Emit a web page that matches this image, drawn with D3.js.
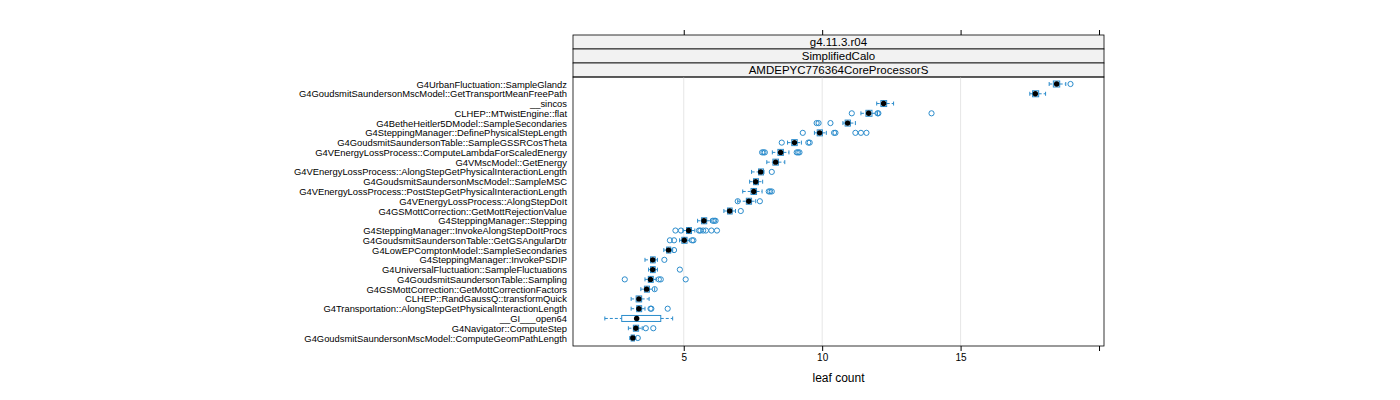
<!DOCTYPE html><html><head><meta charset="utf-8"><script src="https://d3js.org/d3.v7.min.js"></script>
<style>body{margin:0;background:#fff}text{font-family:"Liberation Sans",Arial,sans-serif}</style></head><body><svg id="c" width="1400" height="400"></svg>
<script>
const categories=["G4UrbanFluctuation::SampleGlandz","G4GoudsmitSaundersonMscModel::GetTransportMeanFreePath","__sincos","CLHEP::MTwistEngine::flat","G4BetheHeitler5DModel::SampleSecondaries","G4SteppingManager::DefinePhysicalStepLength","G4GoudsmitSaundersonTable::SampleGSSRCosTheta","G4VEnergyLossProcess::ComputeLambdaForScaledEnergy","G4VMscModel::GetEnergy","G4VEnergyLossProcess::AlongStepGetPhysicalInteractionLength","G4GoudsmitSaundersonMscModel::SampleMSC","G4VEnergyLossProcess::PostStepGetPhysicalInteractionLength","G4VEnergyLossProcess::AlongStepDoIt","G4GSMottCorrection::GetMottRejectionValue","G4SteppingManager::Stepping","G4SteppingManager::InvokeAlongStepDoItProcs","G4GoudsmitSaundersonTable::GetGSAngularDtr","G4LowEPComptonModel::SampleSecondaries","G4SteppingManager::InvokePSDIP","G4UniversalFluctuation::SampleFluctuations","G4GoudsmitSaundersonTable::Sampling","G4GSMottCorrection::GetMottCorrectionFactors","CLHEP::RandGaussQ::transformQuick","G4Transportation::AlongStepGetPhysicalInteractionLength","__GI___open64","G4Navigator::ComputeStep","G4GoudsmitSaundersonMscModel::ComputeGeomPathLength"];
const medians=[18.47,17.7,12.22,11.68,10.92,9.91,9.0,8.5,8.32,7.78,7.6,7.53,7.35,6.66,5.73,5.18,5.02,4.45,3.88,3.88,3.8,3.66,3.38,3.38,3.3,3.27,3.16];
const q1=[18.35,17.6,12.12,11.58,10.83,9.82,8.9,8.4,8.22,7.7,7.52,7.43,7.26,6.58,5.64,5.1,4.93,4.38,3.8,3.8,3.72,3.58,3.28,3.3,2.76,3.18,3.1];
const q3=[18.58,17.82,12.33,11.8,11.02,10.01,9.1,8.6,8.42,7.88,7.7,7.63,7.45,6.75,5.83,5.28,5.12,4.53,3.97,3.97,3.9,3.76,3.48,3.48,4.17,3.37,3.22];
const whiskLo=[18.2,17.5,11.97,11.4,10.75,9.72,8.75,8.2,8.0,7.45,7.38,7.13,6.95,6.45,5.5,4.97,4.85,4.28,3.6,3.73,3.6,3.45,3.1,3.1,2.15,3.0,3.05];
const whiskHi=[18.8,18.07,12.58,12.0,11.2,10.15,9.25,8.8,8.65,7.9,7.85,7.83,7.6,6.87,5.97,5.4,5.2,4.6,4.05,4.05,4.0,3.95,3.75,3.6,4.6,3.5,3.27];
const outliers=[[18.97],[],[],[11.07,12.0,12.03,13.95],[9.8,9.87,10.3],[9.3,10.43,10.48,11.2,11.4,11.6],[8.54,9.5,9.55],[7.83,7.88,7.93,9.08,9.13,9.18],[],[8.18],[],[8.07,8.12,8.18],[6.95,7.75],[7.06],[6.05,6.1,6.15],[4.7,4.9,5.55,5.6,5.7,5.8,6.0,6.2],[4.5,4.65,5.3,5.35],[4.65],[4.3],[4.86],[2.87,4.1,4.17,5.07],[3.95],[],[3.8,3.83,4.42],[],[3.63,3.9],[3.34]];
const xTicks=[5,10,15,20];
const stripLabels=["g4.11.3.r04","SimplifiedCalo","AMDEPYC776364CoreProcessorS"];

const svg=d3.select("#c");
const L=573,R=1104,T=77,B=346;
const x=d3.scaleLinear().domain([1.0,20.18]).range([L,R]);
const y=d3.scalePoint().domain(categories).range([84,338]);
const col="#2b8ccc";
stripLabels.forEach((s,i)=>{
  const y0=35+i*14;
  svg.append("rect").attr("x",L).attr("y",y0).attr("width",R-L).attr("height",14).attr("fill","#f2f2f2").attr("stroke","#000").attr("stroke-width",0.8);
  svg.append("text").attr("x",(L+R)/2).attr("y",y0+11).attr("text-anchor","middle").attr("font-size",11.5).text(s);
});
svg.selectAll(".g").data([5,10,15]).join("line").attr("x1",d=>x(d)).attr("x2",d=>x(d)).attr("y1",T).attr("y2",B).attr("stroke","#e6e6e6");
svg.append("rect").attr("x",L).attr("y",T).attr("width",R-L).attr("height",B-T).attr("fill","none").attr("stroke","#000").attr("stroke-width",0.8);
svg.append("g").attr("transform",`translate(0,${B})`).call(d3.axisBottom(x).tickValues(xTicks).tickSize(5).tickFormat(d=>d<20?d:"")).call(g=>{g.select(".domain").remove();g.selectAll("text").attr("font-size",10).attr("font-family","Liberation Sans");});
svg.append("g").attr("transform",`translate(0,35)`).call(d3.axisTop(x).tickValues(xTicks).tickSize(5).tickFormat("")).call(g=>g.select(".domain").remove());
svg.append("g").attr("transform",`translate(${L},0)`).call(d3.axisLeft(y).tickSize(0).tickPadding(6)).call(g=>{g.select(".domain").remove();g.selectAll("text").attr("font-size",9.4).attr("font-family","Liberation Sans");});
svg.append("text").attr("x",(L+R)/2).attr("y",382).attr("text-anchor","middle").attr("font-size",12).text("leaf count");
categories.forEach((c,i)=>{
  const yc=y(c),h=3;
  const g=svg.append("g");
  const ln=(x1,x2,y1,y2)=>g.append("line").attr("x1",x1).attr("x2",x2).attr("y1",y1).attr("y2",y2).attr("stroke",col).attr("stroke-width",1);
  ln(x(whiskLo[i]),x(q1[i]),yc,yc).attr("stroke-dasharray","3,2");
  ln(x(q3[i]),x(whiskHi[i]),yc,yc).attr("stroke-dasharray","3,2");
  [whiskLo[i],whiskHi[i]].forEach(v=>ln(x(v),x(v),yc-2,yc+2));
  g.append("rect").attr("x",x(q1[i])).attr("y",yc-h).attr("width",x(q3[i])-x(q1[i])).attr("height",2*h).attr("fill","none").attr("stroke",col).attr("stroke-width",1);
  outliers[i].forEach(v=>g.append("circle").attr("cx",x(v)).attr("cy",yc).attr("r",2.6).attr("fill","none").attr("stroke",col).attr("stroke-width",1));
  svg.append("circle").attr("cx",x(medians[i])).attr("cy",yc).attr("r",2.7).attr("fill","#000");
});
</script></body></html>
